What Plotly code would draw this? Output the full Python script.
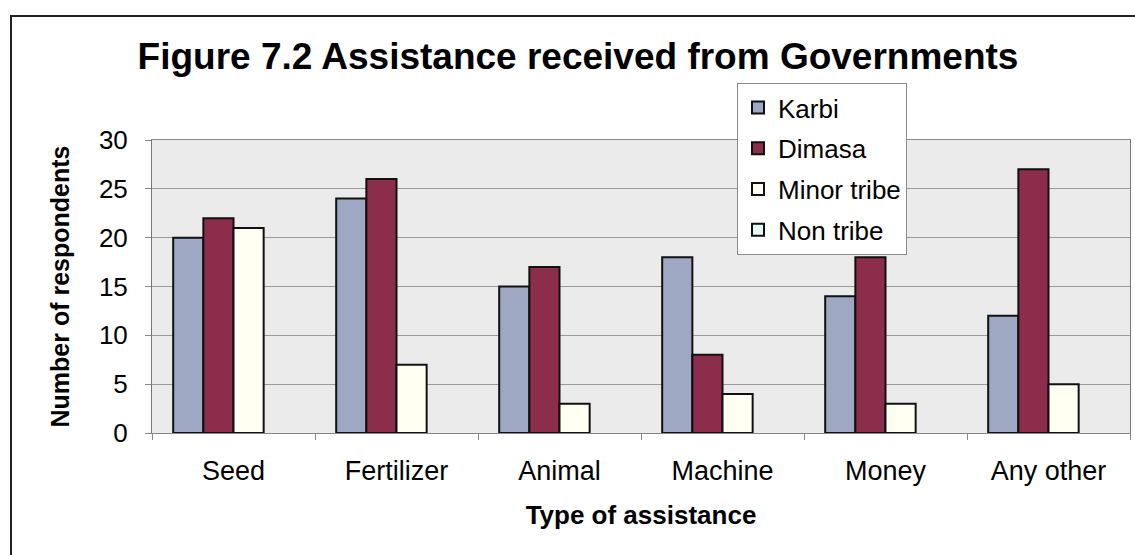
import plotly.graph_objects as go

# Survey counts by type of government assistance
categories = ["Seed", "Fertilizer", "Animal", "Machine", "Money", "Any other"]
karbi = [20, 24, 15, 18, 14, 12]
dimasa = [22, 26, 17, 8, 18, 27]
minor_tribe = [21, 7, 3, 4, 3, 5]
non_tribe = [0, 0, 0, 0, 0, 0]

series = [
    ("Karbi", karbi, "#9ea8c2"),
    ("Dimasa", dimasa, "#8b2d4b"),
    ("Minor tribe", minor_tribe, "#fffff2"),
    ("Non tribe", non_tribe, "#e6faf6"),
]

FONT = "Liberation Sans, Arial, sans-serif"

fig = go.Figure()
for name, vals, color in series:
    # zero counts leave an empty slot in the group instead of a flat outline
    fig.add_trace(go.Bar(
        name=name,
        x=categories,
        y=[v if v else None for v in vals],
        legendgroup=name,
        marker=dict(color=color, line=dict(color="#111111", width=2)),
    ))

W, H = 1135, 555
L, R, T, B = 152, 5, 140, 122
plot_w = W - L - R
plot_h = H - T - B


def px_x(px):
    return (px - L) / plot_w


def px_y(py):
    return (H - B - py) / plot_h


fig.update_layout(
    width=W,
    height=H,
    margin=dict(l=L, r=R, t=T, b=B),
    paper_bgcolor="white",
    plot_bgcolor="#ebebeb",
    barmode="group",
    bargap=0.26,
    bargroupgap=0,
    font=dict(family=FONT, color="black"),
    title=dict(
        text="<b>Figure 7.2 Assistance received from Governments</b>",
        font=dict(size=37, family=FONT, color="black"),
        x=578 / W, xanchor="center",
        y=1 - 56 / H, yanchor="middle",
        xref="container", yref="container",
    ),
    legend=dict(
        x=px_x(737), y=px_y(83), xanchor="left", yanchor="top",
        bgcolor="white", bordercolor="#8a8a8a", borderwidth=1,
        font=dict(size=26, family=FONT, color="black"),
        traceorder="grouped", tracegroupgap=4,
        itemclick=False,
    ),
    xaxis=dict(
        showgrid=False,
        showline=True, linecolor="#888888", linewidth=1, mirror=True,
        ticks="outside", tickson="boundaries", ticklen=6, tickcolor="#888888",
        tickfont=dict(size=27, family=FONT, color="black"),
        ticklabelstandoff=14,
        title=dict(text="<b>Type of assistance</b>",
                   font=dict(size=26, family=FONT, color="black"), standoff=20),
    ),
    yaxis=dict(
        range=[0, 30],
        tickvals=[0, 5, 10, 15, 20, 25, 30],
        showgrid=True, gridcolor="#9a9a9a", gridwidth=1,
        showline=True, linecolor="#777777", linewidth=1, mirror=True,
        ticks="outside", ticklen=6, tickcolor="#888888",
        tickfont=dict(size=26, family=FONT, color="black"),
        ticklabelstandoff=12,
        zeroline=False,
        title=dict(text="<b>Number of respondents</b>",
                   font=dict(size=25, family=FONT, color="black"), standoff=22),
    ),
    shapes=[
        # outer frame of the figure panel
        dict(type="rect", xref="paper", yref="paper",
             x0=px_x(11), x1=px_x(1145), y0=px_y(565), y1=px_y(16),
             line=dict(color="#222222", width=2), fillcolor="rgba(0,0,0,0)",
             layer="below"),
    ],
)

fig.write_html("out.html")
